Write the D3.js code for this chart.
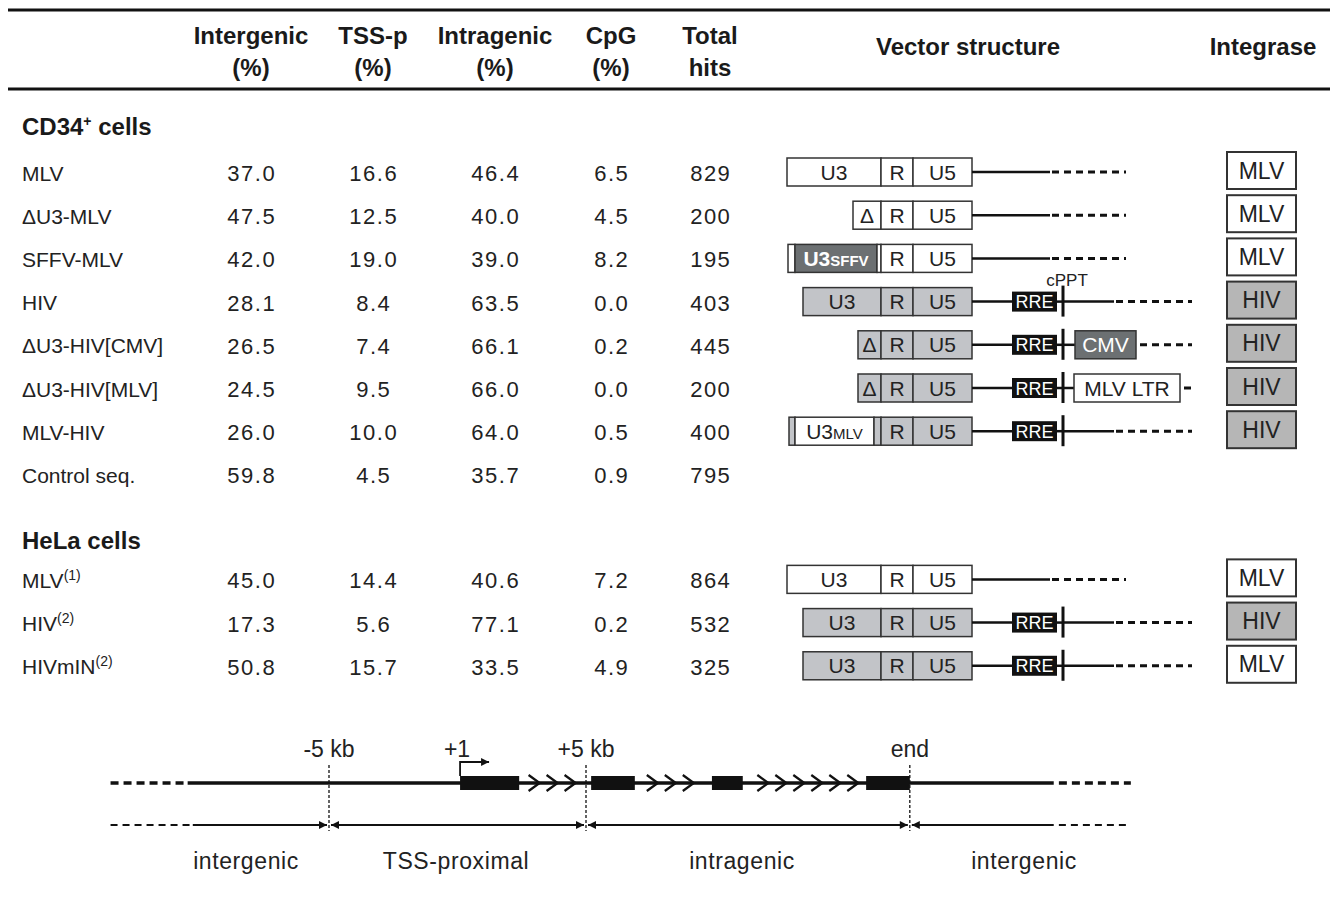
<!DOCTYPE html>
<html>
<head>
<meta charset="utf-8">
<script src="https://cdn.jsdelivr.net/npm/d3@7"></script>
<style>
  body { margin: 0; background: #fff; }
  text { font-family: "Liberation Sans", Arial, Helvetica, sans-serif; }
</style>
</head>
<body>
<script>
// ---- table data: CD34+ cells ----
const cd34Names = ['MLV', '\u0394U3-MLV', 'SFFV-MLV', 'HIV', '\u0394U3-HIV[CMV]', '\u0394U3-HIV[MLV]', 'MLV-HIV', 'Control seq.'];
const cd34Intergenic = [37.0, 47.5, 42.0, 28.1, 26.5, 24.5, 26.0, 59.8];
const cd34Tss = [16.6, 12.5, 19.0, 8.4, 7.4, 9.5, 10.0, 4.5];
const cd34Intragenic = [46.4, 40.0, 39.0, 63.5, 66.1, 66.0, 64.0, 35.7];
const cd34Cpg = [6.5, 4.5, 8.2, 0.0, 0.2, 0.0, 0.5, 0.9];
const cd34Hits = [829, 200, 195, 403, 445, 200, 400, 795];
const cd34Vectors = ['MLV', 'dU3-MLV', 'SFFV-MLV', 'HIV', 'dU3-HIV-CMV', 'dU3-HIV-MLV', 'MLV-HIV', null];
const cd34Integrase = ['MLV', 'MLV', 'MLV', 'HIV', 'HIV', 'HIV', 'HIV', null];

// ---- table data: HeLa cells ----
const helaNames = ['MLV', 'HIV', 'HIVmIN'];
const helaRefs = ['(1)', '(2)', '(2)'];
const helaIntergenic = [45.0, 17.3, 50.8];
const helaTss = [14.4, 5.6, 15.7];
const helaIntragenic = [40.6, 77.1, 33.5];
const helaCpg = [7.2, 0.2, 4.9];
const helaHits = [864, 532, 325];
const helaVectors = ['MLV', 'HIV', 'HIV'];
const helaIntegrase = ['MLV', 'HIV', 'MLV'];

// ---- header ----
const headers = [['Intergenic', '(%)'], ['TSS-p', '(%)'], ['Intragenic', '(%)'], ['CpG', '(%)'], ['Total', 'hits']];

// ---- gene diagram (kb relative to TSS) ----
const exons = [[0.1, 2.4], [5.2, 6.9], [9.9, 11.1], [15.9, 17.6]];
const chevrons = [3.0, 3.7, 4.4, 7.6, 8.3, 9.0, 11.9, 12.6, 13.3, 14.0, 14.7, 15.4];
const markers = [{label: '-5 kb', kb: -5}, {label: '+5 kb', kb: 5}, {label: 'end', kb: 17.6}];
const regions = [
  {label: 'intergenic', from: -13.5, to: -5},
  {label: 'TSS-proximal', from: -5, to: 5},
  {label: 'intragenic', from: 5, to: 17.6},
  {label: 'intergenic', from: 17.6, to: 26}
];

const W = 1330, H = 898;
const ink = '#222';
const lightGray = '#c2c4c8';
const darkGray = '#6c7072';

const svg = d3.select('body').append('svg').attr('width', W).attr('height', H);

// rules
[10, 89].forEach((y) => {
  svg.append('line').attr('x1', 8).attr('x2', W).attr('y1', y).attr('y2', y)
    .attr('stroke', '#111').attr('stroke-width', 3);
});

// column positions
const colX = d3.scaleOrdinal().domain(['inter', 'tss', 'intra', 'cpg', 'hits']).range([251, 373, 495, 611, 710]);
const colKeys = colX.domain();

// header text
headers.forEach((h, i) => {
  h.forEach((line, j) => {
    svg.append('text').attr('x', colX(colKeys[i])).attr('y', 44 + j * 32)
      .attr('text-anchor', 'middle').attr('font-size', 24).attr('font-weight', 'bold')
      .attr('fill', '#1a1a1a').text(line);
  });
});
svg.append('text').attr('x', 968).attr('y', 55).attr('text-anchor', 'middle')
  .attr('font-size', 24).attr('font-weight', 'bold').attr('fill', '#1a1a1a').text('Vector structure');
svg.append('text').attr('x', 1263).attr('y', 55).attr('text-anchor', 'middle')
  .attr('font-size', 24).attr('font-weight', 'bold').attr('fill', '#1a1a1a').text('Integrase');

// row scale (slot -> y centre)
const rowY = d3.scaleLinear().domain([0, 1]).range([173, 216.2]);

function sectionTitle(slot, main, sup) {
  const t = svg.append('text').attr('x', 22).attr('y', rowY(slot) + 8.5)
    .attr('font-size', 24).attr('font-weight', 'bold').attr('fill', '#1a1a1a');
  t.append('tspan').text(main);
  if (sup) {
    t.append('tspan').attr('font-size', 14).attr('dy', -9).text(sup);
    t.append('tspan').attr('dy', 9).text(' cells');
  } else {
    t.append('tspan').text(' cells');
  }
}

// ---- vector drawings ----
function cellBox(g, yc, x0, x1, fill, label, sub, color, bold) {
  g.append('rect').attr('x', x0).attr('y', yc - 14).attr('width', x1 - x0).attr('height', 28)
    .attr('fill', fill).attr('stroke', '#333').attr('stroke-width', 1.5);
  if (label) {
    const t = g.append('text').attr('x', (x0 + x1) / 2).attr('y', yc + 7.5)
      .attr('text-anchor', 'middle').attr('font-size', 21)
      .attr('font-weight', bold ? 'bold' : 'normal').attr('fill', color || ink);
    t.append('tspan').text(label);
    if (sub) t.append('tspan').attr('font-size', 15).text(sub);
  }
}

function solid(g, yc, x0, x1) {
  g.append('line').attr('x1', x0).attr('x2', x1).attr('y1', yc).attr('y2', yc)
    .attr('stroke', '#111').attr('stroke-width', 2.5);
}

function dashed(g, yc, x0, x1) {
  g.append('line').attr('x1', x0).attr('x2', x1).attr('y1', yc).attr('y2', yc)
    .attr('stroke', '#111').attr('stroke-width', 3).attr('stroke-dasharray', '7,5');
}

function mlvTail(g, yc) {
  solid(g, yc, 972, 1050);
  dashed(g, yc, 1052, 1126);
}

function rreBar(g, yc) {
  solid(g, yc, 972, 1012);
  g.append('rect').attr('x', 1012).attr('y', yc - 10).attr('width', 45).attr('height', 20).attr('fill', '#111');
  g.append('text').attr('x', 1034.5).attr('y', yc + 6.5).attr('text-anchor', 'middle')
    .attr('font-size', 18).attr('fill', '#fff').text('RRE');
  g.append('line').attr('x1', 1063).attr('x2', 1063).attr('y1', yc - 16).attr('y2', yc + 15)
    .attr('stroke', '#111').attr('stroke-width', 3);
  solid(g, yc, 1057, 1063);
}

function hivTail(g, yc) {
  rreBar(g, yc);
  solid(g, yc, 1063, 1114);
  dashed(g, yc, 1116, 1192);
}

function drawVector(type, yc) {
  const g = svg.append('g');
  if (type === 'MLV') {
    cellBox(g, yc, 787, 881, '#fff', 'U3');
    cellBox(g, yc, 881, 913, '#fff', 'R');
    cellBox(g, yc, 913, 972, '#fff', 'U5');
    mlvTail(g, yc);
  } else if (type === 'dU3-MLV') {
    cellBox(g, yc, 853, 881, '#fff', '\u0394');
    cellBox(g, yc, 881, 913, '#fff', 'R');
    cellBox(g, yc, 913, 972, '#fff', 'U5');
    mlvTail(g, yc);
  } else if (type === 'SFFV-MLV') {
    cellBox(g, yc, 788, 795, '#fff');
    cellBox(g, yc, 795, 877, darkGray, 'U3', 'SFFV', '#fff', true);
    cellBox(g, yc, 877, 881, '#fff');
    cellBox(g, yc, 881, 913, '#fff', 'R');
    cellBox(g, yc, 913, 972, '#fff', 'U5');
    mlvTail(g, yc);
  } else if (type === 'HIV') {
    cellBox(g, yc, 803, 881, lightGray, 'U3');
    cellBox(g, yc, 881, 913, lightGray, 'R');
    cellBox(g, yc, 913, 972, lightGray, 'U5');
    hivTail(g, yc);
  } else if (type === 'dU3-HIV-CMV') {
    cellBox(g, yc, 858, 881, lightGray, '\u0394');
    cellBox(g, yc, 881, 913, lightGray, 'R');
    cellBox(g, yc, 913, 972, lightGray, 'U5');
    rreBar(g, yc);
    solid(g, yc, 1063, 1075);
    cellBox(g, yc, 1075, 1136, darkGray, 'CMV', null, '#fff');
    dashed(g, yc, 1140, 1192);
  } else if (type === 'dU3-HIV-MLV') {
    cellBox(g, yc, 858, 881, lightGray, '\u0394');
    cellBox(g, yc, 881, 913, lightGray, 'R');
    cellBox(g, yc, 913, 972, lightGray, 'U5');
    rreBar(g, yc);
    solid(g, yc, 1063, 1074);
    cellBox(g, yc, 1074, 1180, '#fff', 'MLV LTR');
    dashed(g, yc, 1184, 1191);
  } else if (type === 'MLV-HIV') {
    cellBox(g, yc, 789, 795, lightGray);
    cellBox(g, yc, 795, 874, '#fff', 'U3', 'MLV');
    cellBox(g, yc, 874, 881, lightGray);
    cellBox(g, yc, 881, 913, lightGray, 'R');
    cellBox(g, yc, 913, 972, lightGray, 'U5');
    hivTail(g, yc);
  }
}

function drawIntegrase(type, yc) {
  svg.append('rect').attr('x', 1227).attr('y', yc - 21).attr('width', 69).attr('height', 37)
    .attr('fill', type === 'HIV' ? '#b6b6b6' : '#fff').attr('stroke', '#333').attr('stroke-width', 2);
  svg.append('text').attr('x', 1261.5).attr('y', yc + 5.5).attr('text-anchor', 'middle')
    .attr('font-size', 23).attr('fill', ink).text(type);
}

function drawRows(names, refs, cols, vectors, integrase, firstSlot, cpptRow) {
  names.forEach((name, i) => {
    const yc = rowY(firstSlot + i);
    const t = svg.append('text').attr('x', 22).attr('y', yc + 7.5).attr('font-size', 21).attr('fill', ink);
    t.append('tspan').text(name);
    if (refs) t.append('tspan').attr('font-size', 14).attr('dy', -8).text(refs[i]);
    cols.forEach((vals, c) => {
      const v = vals[i];
      svg.append('text').attr('x', colX(colKeys[c]) + 0.75).attr('y', yc + 8)
        .attr('text-anchor', 'middle').attr('font-size', 22).attr('letter-spacing', 1.5)
        .attr('fill', ink).text(c === 4 ? v : v.toFixed(1));
    });
    if (vectors[i]) drawVector(vectors[i], yc - 1);
    if (integrase[i]) drawIntegrase(integrase[i], yc);
    if (i === cpptRow) {
      svg.append('text').attr('x', 1067).attr('y', yc - 17).attr('text-anchor', 'middle')
        .attr('font-size', 17).attr('fill', ink).text('cPPT');
    }
  });
}

sectionTitle(-1.07, 'CD34', '+');
drawRows(cd34Names, null,
  [cd34Intergenic, cd34Tss, cd34Intragenic, cd34Cpg, cd34Hits],
  cd34Vectors, cd34Integrase, 0, 3);

sectionTitle(8.5, 'HeLa');
drawRows(helaNames, helaRefs,
  [helaIntergenic, helaTss, helaIntragenic, helaCpg, helaHits],
  helaVectors, helaIntegrase, 9.43, -1);

// ---- gene diagram ----
const xg = d3.scaleLinear().domain([-5, 5]).range([329, 586]);
const geneY = 783;
const arrowY = 825;
const defs = svg.append('defs');
defs.append('marker').attr('id', 'ah').attr('viewBox', '0 0 10 10').attr('refX', 10).attr('refY', 5)
  .attr('markerWidth', 10).attr('markerHeight', 8).attr('markerUnits', 'userSpaceOnUse')
  .attr('orient', 'auto-start-reverse')
  .append('path').attr('d', 'M0,0L10,5L0,10Z').attr('fill', '#111');

const gd = svg.append('g');
// main line
gd.append('line').attr('x1', xg(-13.5)).attr('x2', xg(-10.5)).attr('y1', geneY).attr('y2', geneY)
  .attr('stroke', '#111').attr('stroke-width', 3.5).attr('stroke-dasharray', '8,5');
gd.append('line').attr('x1', xg(-10.5)).attr('x2', xg(23.2)).attr('y1', geneY).attr('y2', geneY)
  .attr('stroke', '#111').attr('stroke-width', 3.5);
gd.append('line').attr('x1', xg(23.4)).attr('x2', xg(26.2)).attr('y1', geneY).attr('y2', geneY)
  .attr('stroke', '#111').attr('stroke-width', 3.5).attr('stroke-dasharray', '8,5');

// exons
gd.selectAll('rect.exon').data(exons).enter().append('rect').attr('class', 'exon')
  .attr('x', (d) => xg(d[0])).attr('width', (d) => xg(d[1]) - xg(d[0]))
  .attr('y', geneY - 7).attr('height', 14).attr('fill', '#111');

// introns chevrons
gd.selectAll('path.chev').data(chevrons).enter().append('path').attr('class', 'chev')
  .attr('d', (d) => {
    const x = xg(d);
    return 'M' + (x - 6) + ',' + (geneY - 8) + 'L' + (x + 5) + ',' + geneY + 'L' + (x - 6) + ',' + (geneY + 8);
  })
  .attr('fill', 'none').attr('stroke', '#111').attr('stroke-width', 2.3);

// TSS bent arrow
gd.append('path').attr('d', 'M' + xg(0.1) + ',' + (geneY - 7) + 'V' + (geneY - 21) + 'H' + (xg(0.1) + 29))
  .attr('fill', 'none').attr('stroke', '#111').attr('stroke-width', 1.8).attr('marker-end', 'url(#ah)');
gd.append('text').attr('x', xg(0.1) - 3).attr('y', 757).attr('text-anchor', 'middle')
  .attr('font-size', 23).attr('fill', ink).text('+1');

// boundary markers
markers.forEach((m) => {
  gd.append('line').attr('x1', xg(m.kb)).attr('x2', xg(m.kb)).attr('y1', 765).attr('y2', arrowY + 6)
    .attr('stroke', '#111').attr('stroke-width', 1.3).attr('stroke-dasharray', '3,2');
  gd.append('text').attr('x', xg(m.kb)).attr('y', 757).attr('text-anchor', 'middle')
    .attr('font-size', 23).attr('fill', ink).text(m.label);
});

// region arrows
gd.append('line').attr('x1', xg(-13.5)).attr('x2', xg(-10.3)).attr('y1', arrowY).attr('y2', arrowY)
  .attr('stroke', '#111').attr('stroke-width', 2).attr('stroke-dasharray', '7,5');
gd.append('line').attr('x1', xg(-10.3)).attr('x2', xg(-5) - 2).attr('y1', arrowY).attr('y2', arrowY)
  .attr('stroke', '#111').attr('stroke-width', 2).attr('marker-end', 'url(#ah)');
gd.append('line').attr('x1', xg(-5) + 2).attr('x2', xg(5) - 2).attr('y1', arrowY).attr('y2', arrowY)
  .attr('stroke', '#111').attr('stroke-width', 2).attr('marker-start', 'url(#ah)').attr('marker-end', 'url(#ah)');
gd.append('line').attr('x1', xg(5) + 2).attr('x2', xg(17.6) - 2).attr('y1', arrowY).attr('y2', arrowY)
  .attr('stroke', '#111').attr('stroke-width', 2).attr('marker-start', 'url(#ah)').attr('marker-end', 'url(#ah)');
gd.append('line').attr('x1', xg(17.6) + 2).attr('x2', xg(23.2)).attr('y1', arrowY).attr('y2', arrowY)
  .attr('stroke', '#111').attr('stroke-width', 2).attr('marker-start', 'url(#ah)');
gd.append('line').attr('x1', xg(23.4)).attr('x2', xg(26.2)).attr('y1', arrowY).attr('y2', arrowY)
  .attr('stroke', '#111').attr('stroke-width', 2).attr('stroke-dasharray', '7,5');

// region labels
const regionCenters = [246, 456, 742, 1024];
regions.forEach((r, i) => {
  gd.append('text').attr('x', regionCenters[i]).attr('y', 869).attr('text-anchor', 'middle')
    .attr('font-size', 23).attr('letter-spacing', 0.6).attr('fill', ink).text(r.label);
});
</script>
</body>
</html>
